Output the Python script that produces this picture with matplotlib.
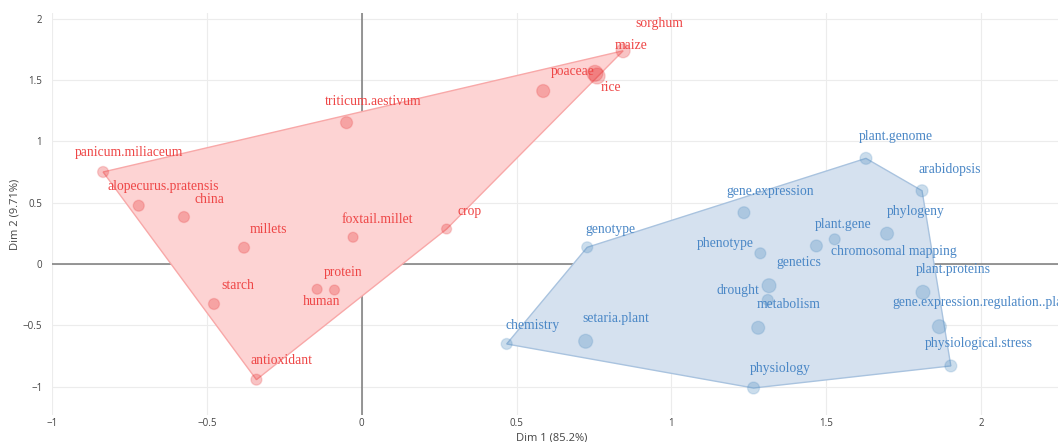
# Conceptual structure map: two keyword clusters on the first two dimensions,
# each wrapped in its convex hull.

import numpy as np
import matplotlib
matplotlib.use("Agg")
import matplotlib.pyplot as plt
from matplotlib.patches import Polygon

# ─── Data ─────────────────────────────────────────────────────────────
red_terms = ["panicum.miliaceum", "alopecurus.pratensis", "china", "millets",
             "starch", "antioxidant", "human", "protein", "foxtail.millet",
             "crop", "triticum.aestivum", "poaceae", "maize", "rice", "sorghum"]
red_dim1 = [-0.835, -0.720, -0.574, -0.380, -0.477, -0.340, -0.144, -0.088,
            -0.028, 0.274, -0.049, 0.586, 0.753, 0.760, 0.844]
red_dim2 = [0.750, 0.475, 0.383, 0.133, -0.326, -0.943, -0.206, -0.212,
            0.218, 0.285, 1.152, 1.410, 1.554, 1.532, 1.738]

blue_terms = ["chemistry", "setaria.plant", "genotype", "gene.expression",
              "phenotype", "drought", "genetics", "metabolism", "plant.gene",
              "chromosomal mapping", "phylogeny", "plant.genome", "arabidopsis",
              "plant.proteins", "gene.expression.regulation..plant",
              "physiological.stress", "physiology"]
blue_dim1 = [0.468, 0.723, 0.728, 1.234, 1.287, 1.315, 1.311, 1.280, 1.468,
             1.527, 1.696, 1.628, 1.809, 1.812, 1.865, 1.902, 1.265]
blue_dim2 = [-0.652, -0.630, 0.136, 0.418, 0.087, -0.177, -0.293, -0.520,
             0.147, 0.201, 0.247, 0.861, 0.597, -0.231, -0.511, -0.831, -1.011]

x_ticks = [-1, -0.5, 0, 0.5, 1, 1.5, 2]
y_ticks = [-1, -0.5, 0, 0.5, 1, 1.5, 2]

# ─── Styling ──────────────────────────────────────────────────────────
# marker diameters (px) and label offsets (px, from the point)
red_diam = [11, 11, 11, 11, 11, 11, 10, 10, 10, 10, 12, 13, 16, 16, 14]
red_off = [(26, 19), (25, 19), (25, 18), (24, 18), (24, 18), (25, 19),
           (4, -12), (9, 17), (24, 18), (23, 18), (27, 21), (29, 20),
           (36, 28), (14, -11), (36, 27)]
blue_diam = [11, 14, 11, 12, 11, 14, 11, 13, 12, 11, 13, 12, 12, 14, 14, 12, 12]
blue_off = [(26, 18), (30, 23), (23, 18), (26, 21), (-35, 10), (-31, -5),
            (31, 37), (30, 23), (27, 21), (59, -12), (29, 22), (30, 22),
            (28, 21), (30, 23), (44, 24), (28, 22), (27, 20)]

C = {
    "red":  {"pt": (0.894, 0.102, 0.110), "hull": "#fdd3d3", "edge": "#f8a8a8",
             "text": "#ee4646"},
    "blue": {"pt": (0.216, 0.494, 0.722), "hull": "#d5e1ef", "edge": "#a9c3df",
             "text": "#4a87c6"},
}

LABEL_FONT = ["Liberation Serif", "DejaVu Serif"]
AXIS_FONT = ["Open Sans", "DejaVu Sans"]


def convex_hull(xs, ys):
    pts = sorted(set(zip(xs, ys)))

    def cross(o, a, b):
        return (a[0] - o[0]) * (b[1] - o[1]) - (a[1] - o[1]) * (b[0] - o[0])

    lower, upper = [], []
    for p in pts:
        while len(lower) >= 2 and cross(lower[-2], lower[-1], p) <= 0:
            lower.pop()
        lower.append(p)
    for p in reversed(pts):
        while len(upper) >= 2 and cross(upper[-2], upper[-1], p) <= 0:
            upper.pop()
        upper.append(p)
    return np.array(lower[:-1] + upper[:-1])


def draw_cluster(ax, terms, xs, ys, diam, offs, col):
    hull = convex_hull(xs, ys)
    ax.add_patch(Polygon(hull, closed=True, facecolor=col["hull"],
                         edgecolor=col["edge"], linewidth=1.0, zorder=2))
    sizes = [(d * 0.72) ** 2 for d in diam]
    ax.scatter(xs, ys, s=sizes, facecolor=(*col["pt"], 0.26),
               edgecolor=(*col["pt"], 0.16), linewidth=1.0, zorder=3)
    for t, x, y, (dx, dy) in zip(terms, xs, ys, offs):
        ax.annotate(t, (x, y), xytext=(dx, dy), textcoords="offset pixels",
                    ha="center", va="center", fontsize=9.8,
                    family=LABEL_FONT, color=col["text"], zorder=4,
                    annotation_clip=False)


# ─── Figure ───────────────────────────────────────────────────────────
fig = plt.figure(figsize=(10.58, 4.42), dpi=100)
ax = fig.add_axes([52 / 1058, 27 / 442, 1 - 52 / 1058, 402 / 442])
ax.set_xlim(-0.997, 2.248)
ax.set_ylim(-1.231, 2.046)

ax.grid(True, color="#ececec", linewidth=0.8, zorder=0)
ax.set_axisbelow(True)
ax.axhline(0, color="#7a7a7a", linewidth=1.1, zorder=1)
ax.axvline(0, color="#7a7a7a", linewidth=1.1, zorder=1)
for sp in ax.spines.values():
    sp.set_visible(False)

draw_cluster(ax, red_terms, red_dim1, red_dim2, red_diam, red_off, C["red"])
draw_cluster(ax, blue_terms, blue_dim1, blue_dim2, blue_diam, blue_off, C["blue"])

ax.set_xticks(x_ticks)
ax.set_yticks(y_ticks)
ax.set_xticklabels([f"{v:g}".replace("-", "\u2212") for v in x_ticks],
                   family=AXIS_FONT)
ax.set_yticklabels([f"{v:g}".replace("-", "\u2212") for v in y_ticks],
                   family=AXIS_FONT)
ax.tick_params(length=0, labelsize=7, labelcolor="#444444")
ax.tick_params(axis="x", pad=2.5)
ax.tick_params(axis="y", pad=7)

fig.text(552 / 1058, 1 - 438 / 442, "Dim 1 (85.2%)", ha="center", va="center",
         fontsize=8, color="#444444", family=AXIS_FONT)
fig.text(15 / 1058, 1 - 214 / 442, "Dim 2 (9.71%)", ha="center", va="center",
         rotation=90, fontsize=8, color="#444444", family=AXIS_FONT)

fig.savefig("out.png", dpi=100)
